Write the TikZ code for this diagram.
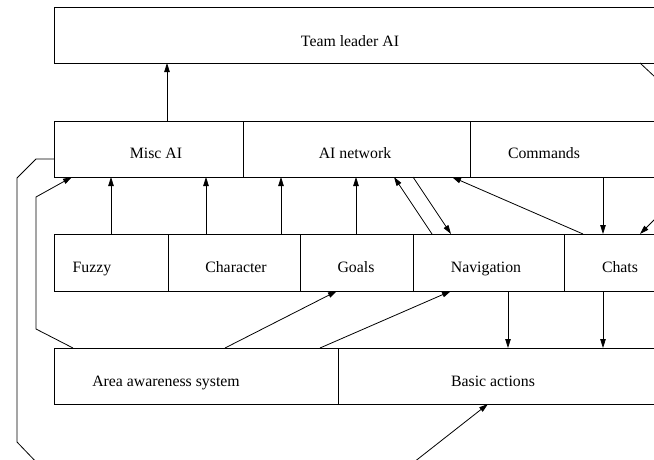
\documentclass[tikz,border=0pt]{standalone}
\usepackage{fontspec}
\setmainfont{Liberation Serif}
\usetikzlibrary{arrows.meta}
\begin{document}
\begin{tikzpicture}[x=1pt,y=-1pt,
  box/.style={draw, rectangle, inner sep=0pt, outer sep=0pt, line width=0.8pt, anchor=north west},
  lbl/.style={anchor=base, inner sep=0pt, font=\fontsize{15.8}{19}\selectfont},
  conn/.style={line width=0.8pt},
  arr/.style={conn, -{Triangle[length=9pt,width=5.5pt]}}]
\useasboundingbox (0,0) rectangle (654,459);
\clip (0,0) rectangle (654,459);
% boxes
\node[box, minimum width=646pt, minimum height=56pt] (team) at (54,7) {};
\node[box, minimum width=189pt, minimum height=56pt] (misc) at (54,121) {};
\node[box, minimum width=227pt, minimum height=56pt] (ainet) at (243,121) {};
\node[box, minimum width=230pt, minimum height=56pt] (cmds) at (470,121) {};
\node[box, minimum width=114pt, minimum height=57pt] (fuzzy) at (54,234) {};
\node[box, minimum width=132pt, minimum height=57pt] (charb) at (168,234) {};
\node[box, minimum width=113pt, minimum height=57pt] (goals) at (300,234) {};
\node[box, minimum width=151pt, minimum height=57pt] (nav) at (413,234) {};
\node[box, minimum width=136pt, minimum height=57pt] (chats) at (564,234) {};
\node[box, minimum width=284pt, minimum height=56pt] (area) at (54,348) {};
\node[box, minimum width=362pt, minimum height=56pt] (basic) at (338,348) {};
% labels
\node[lbl] (tteam) at (350,46) {Team leader AI};
\node[lbl] (tmisc) at (156,158) {Misc AI};
\node[lbl] (tainet) at (355,158) {AI network};
\node[lbl] (tcmds) at (544,158) {Commands};
\node[lbl] (tfuzzy) at (92,272) {Fuzzy};
\node[lbl] (tcharb) at (236,272) {Character};
\node[lbl] (tgoals) at (356,272) {Goals};
\node[lbl] (tnav) at (486,272) {Navigation};
\node[lbl] (tchats) at (620,272) {Chats};
\node[lbl] (tarea) at (166,386) {Area awareness system};
\node[lbl] (tbasic) at (493,386) {Basic actions};
% off-picture coordinates
\coordinate (offA) at (700,119);
\coordinate (offB) at (700,174);
% connectors
\draw[arr] (167,0 |- misc.north) -- (167,0 |- team.south);
\draw[arr] (111,0 |- fuzzy.north) -- (111,0 |- misc.south);
\draw[arr] (206,0 |- charb.north) -- (206,0 |- misc.south);
\draw[arr] (281,0 |- charb.north) -- (281,0 |- ainet.south);
\draw[arr] (356,0 |- goals.north) -- (356,0 |- ainet.south);
\draw[arr] (432,0 |- nav.north) -- (394,0 |- ainet.south);
\draw[arr] (413,0 |- ainet.south) -- (451,0 |- nav.north);
\draw[arr] (583,0 |- chats.north) -- (452,0 |- ainet.south);
\draw[arr] (603,0 |- cmds.south) -- (603,0 |- chats.north);
\draw[arr] (offB) -- (640,0 |- chats.north);
\draw[conn] (640,0 |- team.south) -- (offA);
\draw[arr] (225,0 |- area.north) -- (337,0 |- goals.south);
\draw[arr] (320,0 |- area.north) -- (451,0 |- nav.south);
\draw[arr] (508,0 |- nav.south) -- (508,0 |- basic.north);
\draw[arr] (603,0 |- chats.south) -- (603,0 |- basic.north);
\draw[arr] (73,0 |- area.north) -- (36,329) -- (36,197) -- (72,0 |- misc.south);
\draw[arr] (misc.west |- 0,159) -- (36,159) -- (17,178) -- (17,442) -- (40,466) -- (409,466) -- (488,0 |- basic.south);
\end{tikzpicture}
\end{document}
